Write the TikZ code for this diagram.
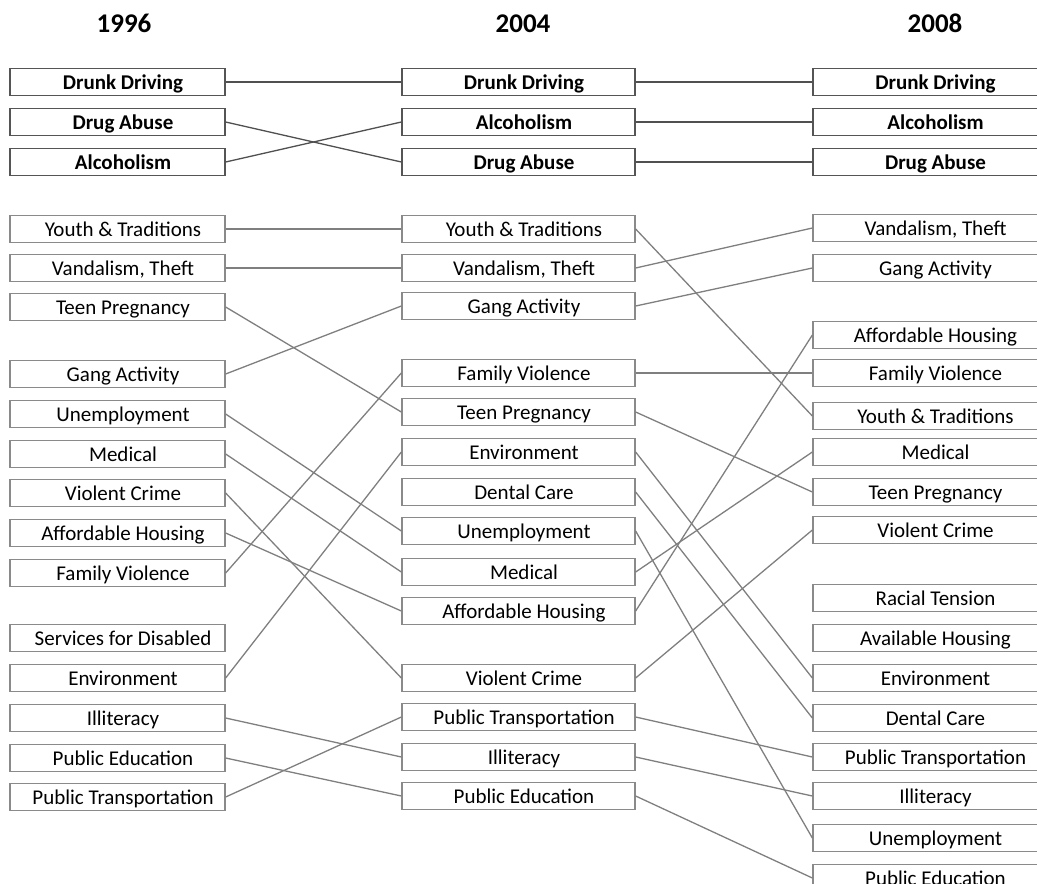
\documentclass[tikz,border=0pt]{standalone}
\usepackage{fontspec}
\setmainfont{Carlito}
\definecolor{boxgray}{HTML}{8A8A8A}
\definecolor{boxdark}{HTML}{555555}
\definecolor{linegray}{HTML}{7F7F7F}
\definecolor{linedark}{HTML}{505050}
\tikzset{
  box/.style={draw=boxgray, line width=1.3pt, minimum height=27pt, inner sep=0pt,
    text height=16.5pt, text depth=1pt,
    font=\fontsize{21}{23}\selectfont, text=black, execute at begin node=\hspace*{11pt}},
  Lbox/.style={box, minimum width=215pt},
  Mbox/.style={box, minimum width=233pt},
  Rbox/.style={box, minimum width=234pt},
  topbox/.style={draw=boxdark, font=\bfseries\fontsize{21}{23}\selectfont},
  yearlabel/.style={font=\bfseries\fontsize{27}{30}\selectfont, inner sep=0pt, anchor=base},
  link/.style={draw=linegray, line width=1.3pt},
  toplink/.style={draw=linedark, line width=1.3pt}
}
\begin{document}
\begin{tikzpicture}[x=1pt,y=-1pt]
\clip (0,0) rectangle (1037,884);
\useasboundingbox (0,0) rectangle (1037,884);
% headers
\node[yearlabel] (h1) at (124,32) {1996};
\node[yearlabel] (h2) at (523,32) {2004};
\node[yearlabel] (h3) at (935,32) {2008};
% 1996
\node[Lbox,topbox] (lDD) at (117.5,82) {Drunk Driving};
\node[Lbox,topbox] (lDA) at (117.5,122) {Drug Abuse};
\node[Lbox,topbox] (lAl) at (117.5,162) {Alcoholism};
\node[Lbox] (lYT) at (117.5,229) {Youth \& Traditions};
\node[Lbox] (lVT) at (117.5,268) {Vandalism, Theft};
\node[Lbox] (lTP) at (117.5,307) {Teen Pregnancy};
\node[Lbox] (lGA) at (117.5,374) {Gang Activity};
\node[Lbox] (lUn) at (117.5,414) {Unemployment};
\node[Lbox] (lMe) at (117.5,454) {Medical};
\node[Lbox] (lVC) at (117.5,493) {Violent Crime};
\node[Lbox] (lAH) at (117.5,533) {Affordable Housing};
\node[Lbox] (lFV) at (117.5,573) {Family Violence};
\node[Lbox] (lSD) at (117.5,638) {Services for Disabled};
\node[Lbox] (lEn) at (117.5,678) {Environment};
\node[Lbox] (lIl) at (117.5,718) {Illiteracy};
\node[Lbox] (lPE) at (117.5,758) {Public Education};
\node[Lbox] (lPT) at (117.5,797) {Public Transportation};
% 2004
\node[Mbox,topbox] (mDD) at (518.5,82) {Drunk Driving};
\node[Mbox,topbox] (mAl) at (518.5,122) {Alcoholism};
\node[Mbox,topbox] (mDA) at (518.5,162) {Drug Abuse};
\node[Mbox] (mYT) at (518.5,229) {Youth \& Traditions};
\node[Mbox] (mVT) at (518.5,268) {Vandalism, Theft};
\node[Mbox] (mGA) at (518.5,306) {Gang Activity};
\node[Mbox] (mFV) at (518.5,373) {Family Violence};
\node[Mbox] (mTP) at (518.5,412) {Teen Pregnancy};
\node[Mbox] (mEn) at (518.5,452) {Environment};
\node[Mbox] (mDC) at (518.5,492) {Dental Care};
\node[Mbox] (mUn) at (518.5,531) {Unemployment};
\node[Mbox] (mMe) at (518.5,572) {Medical};
\node[Mbox] (mAH) at (518.5,611) {Affordable Housing};
\node[Mbox] (mVC) at (518.5,678) {Violent Crime};
\node[Mbox] (mPT) at (518.5,717) {Public Transportation};
\node[Mbox] (mIl) at (518.5,757) {Illiteracy};
\node[Mbox] (mPE) at (518.5,796) {Public Education};
% 2008
\node[Rbox,topbox] (rDD) at (930,82) {Drunk Driving};
\node[Rbox,topbox] (rAl) at (930,122) {Alcoholism};
\node[Rbox,topbox] (rDA) at (930,162) {Drug Abuse};
\node[Rbox] (rVT) at (930,228) {Vandalism, Theft};
\node[Rbox] (rGA) at (930,268) {Gang Activity};
\node[Rbox] (rAH) at (930,335) {Affordable Housing};
\node[Rbox] (rFV) at (930,373) {Family Violence};
\node[Rbox] (rYT) at (930,416) {Youth \& Traditions};
\node[Rbox] (rMe) at (930,452) {Medical};
\node[Rbox] (rTP) at (930,492) {Teen Pregnancy};
\node[Rbox] (rVC) at (930,530) {Violent Crime};
\node[Rbox] (rRT) at (930,598) {Racial Tension};
\node[Rbox] (rAvH) at (930,638) {Available Housing};
\node[Rbox] (rEn) at (930,678) {Environment};
\node[Rbox] (rDC) at (930,718) {Dental Care};
\node[Rbox] (rPT) at (930,757) {Public Transportation};
\node[Rbox] (rIl) at (930,796) {Illiteracy};
\node[Rbox] (rUn) at (930,838) {Unemployment};
\node[Rbox] (rPE) at (930,878) {Public Education};
% links 1996 -> 2004
\foreach \a in {DD,DA,Al}{\draw[toplink] (l\a.east) -- (m\a.west);}
\foreach \a in {YT,VT,TP,GA,Un,Me,VC,AH,FV,En,Il,PE,PT}{\draw[link] (l\a.east) -- (m\a.west);}
% links 2004 -> 2008
\foreach \a in {DD,DA,Al}{\draw[toplink] (m\a.east) -- (r\a.west);}
\foreach \a in {YT,VT,GA,FV,TP,En,DC,Un,Me,AH,VC,PT,Il,PE}{\draw[link] (m\a.east) -- (r\a.west);}
\end{tikzpicture}
\end{document}
